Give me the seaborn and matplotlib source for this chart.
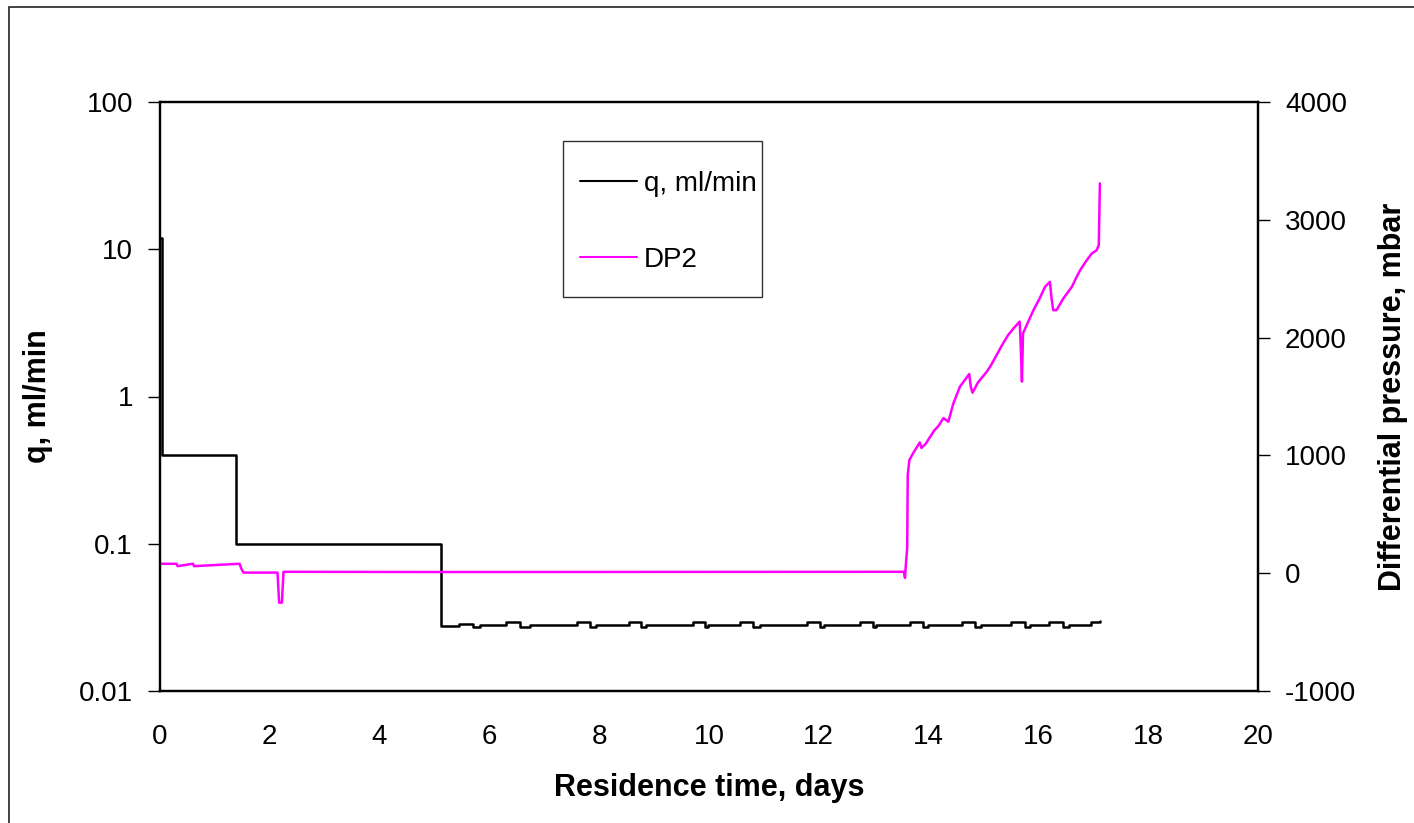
import matplotlib
matplotlib.use("Agg")
import matplotlib.pyplot as plt
import matplotlib.ticker as mticker
from matplotlib.patches import Rectangle
import pandas as pd
import seaborn as sns

# flow rate q (ml/min), step changes
q_days = [0, 0.03, 1.38, 5.12, 5.45, 5.70, 5.83, 6.31, 6.56, 6.74, 7.60, 7.83, 7.95,
          8.55, 8.77, 8.85, 9.70, 9.92, 9.98, 10.56, 10.80, 10.92, 11.78, 12.02, 12.10,
          12.75, 12.98, 13.05, 13.66, 13.90, 13.98, 14.60, 14.85, 14.95, 15.50, 15.75,
          15.85, 16.20, 16.45, 16.55, 16.95, 17.12]
q_vals = [12, 0.4, 0.1, 0.0278, 0.0285, 0.0270, 0.028, 0.0292, 0.0270, 0.028, 0.0292, 0.0270, 0.028,
          0.0292, 0.0270, 0.028, 0.0292, 0.0270, 0.028, 0.0292, 0.0270, 0.028, 0.0292, 0.0270, 0.028,
          0.0292, 0.0270, 0.028, 0.0292, 0.0270, 0.028, 0.0292, 0.0270, 0.028, 0.0292, 0.0270,
          0.028, 0.0292, 0.0270, 0.028, 0.0296, 0.0300]

# differential pressure DP2 (mbar)
dp_days = [0, 0.30, 0.32, 0.60, 0.62, 1.45, 1.48, 1.52, 2.14, 2.17, 2.22, 2.25, 5.10, 13.55,
           13.57, 13.59, 13.61, 13.62, 13.65, 13.72, 13.81, 13.84, 13.87, 13.95, 14.03,
           14.10, 14.18, 14.27, 14.36, 14.45, 14.57, 14.66, 14.74, 14.77, 14.80, 14.90,
           15.06, 15.13, 15.21, 15.33, 15.45, 15.55, 15.63, 15.66, 15.68, 15.70, 15.72,
           15.80, 15.91, 16.02, 16.12, 16.21, 16.24, 16.27, 16.33, 16.45, 16.61, 16.68,
           16.76, 16.87, 16.97, 17.06, 17.10, 17.12]
dp_vals = [80, 80, 60, 80, 60, 80, 40, 5, 5, -250, -250, 12, 10, 12,
           -40, 100, 215, 834, 961, 1020, 1088, 1110, 1063, 1100, 1159,
           1210, 1250, 1317, 1286, 1440, 1583, 1640, 1691, 1580, 1532, 1620,
           1711, 1760, 1827, 1930, 2022, 2080, 2121, 2135, 1900, 1626, 2036,
           2120, 2233, 2330, 2431, 2474, 2333, 2233, 2233, 2330, 2431, 2500,
           2572, 2650, 2713, 2741, 2786, 3309]

q_df = pd.DataFrame({"days": q_days, "q": q_vals})
dp_df = pd.DataFrame({"days": dp_days, "dp": dp_vals})

sns.set_theme(style="white")
plt.rcParams["font.family"] = ["Liberation Sans", "DejaVu Sans"]
plt.rcParams["axes.unicode_minus"] = False
plt.rcParams["text.color"] = "black"
plt.rcParams["axes.labelcolor"] = "black"
plt.rcParams["xtick.color"] = "black"
plt.rcParams["ytick.color"] = "black"

fig = plt.figure(figsize=(14.14, 8.23), dpi=100)
ax = fig.add_axes([160 / 1414, 1 - 691 / 823, 1098 / 1414, 589 / 823])
ax2 = ax.twinx()

sns.lineplot(data=q_df, x="days", y="q", ax=ax, color="black", linewidth=1.8,
             drawstyle="steps-post", estimator=None, sort=False, label="q, ml/min", legend=False)
sns.lineplot(data=dp_df, x="days", y="dp", ax=ax2, color="#ff00ff", linewidth=1.8,
             estimator=None, sort=False, label="DP2", legend=False)

ax.set_yscale("log")
ax.set_ylim(0.01, 100)
ax.set_xlim(0, 20)
ax.set_xticks(range(0, 21, 2))
ax.set_yticks([0.01, 0.1, 1, 10, 100])
ax.yaxis.set_major_formatter(mticker.FuncFormatter(lambda v, p: f"{v:g}"))
ax.yaxis.set_minor_locator(mticker.NullLocator())
ax2.set_ylim(-1000, 4000)
ax2.set_yticks(range(-1000, 4001, 1000))

for a in (ax, ax2):
    for s in a.spines.values():
        s.set_color("black")
        s.set_linewidth(1.6)
ax.tick_params(axis="both", which="major", direction="out", length=8.5, width=1.0,
               color="black", labelcolor="black", labelsize=20, pad=11)
ax.tick_params(axis="x", pad=15)
ax2.tick_params(axis="y", direction="out", length=8.5, width=1.0, color="black",
                labelcolor="black", labelsize=20, pad=11)

ax.set_xlabel("Residence time, days", fontsize=22, fontweight="bold", color="black")
ax.set_ylabel("q, ml/min", fontsize=22, fontweight="bold", color="black")
ax2.set_ylabel("Differential pressure, mbar", fontsize=22, fontweight="bold", color="black")
ax.xaxis.set_label_coords(0.5, -0.14)
ax.yaxis.set_label_coords(-0.097, 0.5)
ax2.yaxis.set_label_coords(1.109, 0.5)
ax2.yaxis.label.set_rotation(90)
ax2.yaxis.label.set_va("top")

# legend: entries without frame, box drawn separately
h1, l1 = ax.get_legend_handles_labels()
h2, l2 = ax2.get_legend_handles_labels()
leg = ax2.legend(h1 + h2, l1 + l2, loc="upper left", bbox_to_anchor=(0.3825, 0.883),
                 borderaxespad=0, borderpad=0, fontsize=20, frameon=False,
                 handlelength=2.05, handletextpad=0.25, labelspacing=1.8)
for line in leg.get_lines():
    line.set_linewidth(1.5)
ax2.add_patch(Rectangle((0.367, 0.669), 0.181, 0.265, transform=ax2.transAxes,
                        fill=False, edgecolor="#333333", linewidth=1.0, zorder=5))

# outer chart border
fig.add_artist(Rectangle((9 / 1414, -0.1), 1.2, 1.1 - 7 / 823, transform=fig.transFigure,
                         fill=False, edgecolor="#222222", linewidth=1.2))

fig.savefig("out.png", dpi=100)
